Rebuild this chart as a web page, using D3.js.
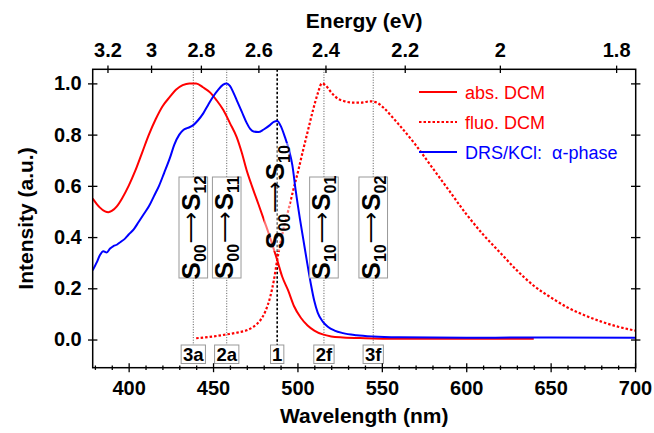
<!DOCTYPE html>
<html><head><meta charset="utf-8">
<script src="https://cdn.jsdelivr.net/npm/d3@7"></script>
<style>
html,body{margin:0;padding:0;background:#fff;}
svg{display:block;font-family:"Liberation Sans",Arial,Helvetica,sans-serif;}
</style></head>
<body>
<svg id="c" width="654" height="433"></svg>
<script>
// ---- data ----
const absWl = [378.7,381,383,386,388,390,393,396,400,404,408,412,416,420,424.5,428,432,436,440,444,448.2,452,456.1,460,464,467,469.9,473,476.8,480,483.7,488,491,494.6,498,502,506,510,515,520,527,540,560,600,640];
const absI  = [0.55,0.53,0.515,0.50,0.497,0.502,0.52,0.55,0.60,0.66,0.73,0.80,0.86,0.91,0.948,0.975,0.993,1.0,1.0,0.985,0.965,0.935,0.896,0.845,0.79,0.73,0.661,0.60,0.53,0.47,0.40,0.31,0.245,0.19,0.13,0.085,0.055,0.035,0.02,0.012,0.008,0.005,0.003,0.003,0.003];

const fluoWl = [440,450,458,465,470,474,478,481,484,486,488,490,491.6,494.6,497.5,500.5,503,506,509,512,514.5,517,520,524,528,533,538,543,547,551,556,560,570,580,590,600,610,620,630,640,650,660,670,680,690,700];
const fluoI  = [0.005,0.012,0.02,0.028,0.036,0.05,0.075,0.11,0.17,0.23,0.31,0.38,0.427,0.505,0.583,0.66,0.73,0.81,0.89,0.96,1.0,0.99,0.965,0.94,0.93,0.925,0.925,0.93,0.925,0.905,0.87,0.84,0.76,0.67,0.58,0.49,0.41,0.34,0.27,0.21,0.165,0.125,0.095,0.07,0.05,0.035];

const drsWl = [378.7,381,383,385,387,389,391,393,395,398,400,403,406,409,412,415,418,421,424.5,427,430,432.4,435,438.3,441,444.2,447,450,453,456,458,460,462,464,467,470,472,474,476.8,480,483.7,486,488,490,492.6,495,497,499,501.5,503.5,505.5,508,510,512,515,518,522,527,535,545,560,600,650,700];
const drsI  = [0.27,0.30,0.33,0.345,0.34,0.355,0.365,0.37,0.38,0.395,0.41,0.43,0.46,0.49,0.52,0.56,0.60,0.65,0.71,0.76,0.80,0.818,0.826,0.837,0.855,0.883,0.915,0.948,0.975,0.995,1.0,0.99,0.965,0.935,0.89,0.845,0.822,0.812,0.81,0.82,0.837,0.85,0.853,0.835,0.79,0.74,0.68,0.58,0.47,0.39,0.31,0.215,0.15,0.105,0.07,0.05,0.035,0.025,0.017,0.012,0.009,0.007,0.008,0.007];

const seriesNames = ["abs. DCM","fluo. DCM","DRS/KCl:  \u03b1-phase"];

const wlTicks = [400,450,500,550,600,650,700];
const wlMinor = [380,390,410,420,430,440,460,470,480,490,510,520,530,540,560,570,580,590,610,620,630,640,660,670,680,690];
const yTicks = [0,0.2,0.4,0.6,0.8,1.0];
const eTicks = [3.2,3,2.8,2.6,2.4,2.2,2,1.8];
const eLabels = ["3.2","3","2.8","2.6","2.4","2.2","2","1.8"];

const transNames = ["3a","2a","1","2f","3f"];
const transWl = [438.3,458.1,488,515.7,544.9];
const transFrom = ["00","00","00","10","10"];
const transTo = ["12","11","10","01","02"];

// ---- scales ----
const svg = d3.select("#c");
const x = d3.scaleLinear().domain([378.7,700.4]).range([92.7,635.7]);
const y = d3.scaleLinear().domain([-0.11,1.055]).range([367.7,69.3]);
const X0 = x.range()[0], X1 = x.range()[1], Y0 = y.range()[0], Y1 = y.range()[1];

// ---- vertical transition lines ----
const boxTop = 177, boxBot = 278, smallTop = 345, smallBot = 363.5;
transWl.forEach((w,i)=>{
  svg.append("line").attr("x1",x(w)).attr("x2",x(w)).attr("y1",Y1).attr("y2",smallTop)
    .attr("stroke", i===2 ? "#000" : "#444")
    .attr("stroke-width", i===2 ? 1.6 : 0.9)
    .attr("stroke-dasharray", i===2 ? "2.5,2" : "1,1.6");
});

// ---- curves ----
const line = d3.line().x(d=>x(d[0])).y(d=>y(d[1])).curve(d3.curveMonotoneX);
const zip = (a,b)=>a.map((v,i)=>[v,b[i]]);
svg.append("path").attr("d",line(zip(fluoWl,fluoI))).attr("fill","none").attr("stroke","#ff0000").attr("stroke-width",2.2).attr("stroke-dasharray","2.5,2");
svg.append("path").attr("d",line(zip(absWl,absI))).attr("fill","none").attr("stroke","#ff0000").attr("stroke-width",2);
svg.append("path").attr("d",line(zip(drsWl,drsI))).attr("fill","none").attr("stroke","#0000ff").attr("stroke-width",2);

// ---- big transition labels ----
function bigLabel(g, i){
  const t = g.append("text").attr("text-anchor","middle").attr("font-weight","bold").attr("fill","#000")
    .attr("font-size",26);
  t.append("tspan").text("S");
  t.append("tspan").attr("font-size",16).attr("dy",6).text(transFrom[i]);
  t.append("tspan").attr("dy",-7.5).attr("font-size",22).attr("font-weight","normal")
    .attr("font-family","DejaVu Sans").attr("dx",1).text("\u27F6");
  t.append("tspan").attr("dy",1.5).attr("dx",1).text("S");
  t.append("tspan").attr("font-size",16).attr("dy",6).text(transTo[i]);
  return t;
}
transWl.forEach((w,i)=>{
  const cx = x(w);
  const cy = i===2 ? 197 : (boxTop+boxBot)/2;
  if(i!==2){
    svg.append("rect").attr("x",cx-14.3).attr("y",boxTop).attr("width",28.6).attr("height",boxBot-boxTop)
      .attr("fill","#fff").attr("stroke","#999").attr("stroke-width",1);
  } else {
    svg.append("rect").attr("x",cx-13).attr("y",cy-54).attr("width",26).attr("height",108)
      .attr("fill","#fff").attr("fill-opacity",0.45);
  }
  const g = svg.append("g").attr("transform",`translate(${cx+6.5},${cy}) rotate(-90)`);
  bigLabel(g,i);
});

// ---- small bottom labels ----
transWl.forEach((w,i)=>{
  const cx = x(w);
  const t = svg.append("text").attr("x",cx).attr("y",smallBot-3).attr("text-anchor","middle")
    .attr("font-size",18.5).attr("font-weight","bold").text(transNames[i]);
  const bb = t.node().getBBox();
  svg.insert("rect", function(){return t.node();})
    .attr("x",cx-bb.width/2-1.5).attr("y",smallTop).attr("width",bb.width+3).attr("height",smallBot-smallTop)
    .attr("fill","#fff").attr("stroke","#999").attr("stroke-width",1);
});

// ---- frame ----
svg.append("rect").attr("x",X0).attr("y",Y1).attr("width",X1-X0).attr("height",Y0-Y1)
  .attr("fill","none").attr("stroke","#000").attr("stroke-width",1.5);

// ---- axes ----
const tickFont = g => g.selectAll("text").attr("font-size",20).attr("font-weight","bold").attr("fill","#000")
  .attr("font-family","Liberation Sans, Arial, sans-serif");
const clean = g => { g.select(".domain").remove(); g.selectAll("line").attr("stroke","#000").attr("stroke-width",1.3); };

// bottom
svg.append("g").attr("transform",`translate(0,${Y0})`)
  .call(d3.axisBottom(x).tickValues(wlTicks).tickSize(4.5).tickPadding(8.5).tickFormat(d3.format("d")))
  .call(clean).call(tickFont).call(g=>g.selectAll("line").attr("y1",-4.5));
svg.append("g").attr("transform",`translate(0,${Y0})`)
  .call(d3.axisBottom(x).tickValues(wlMinor).tickSize(2.2).tickFormat(""))
  .call(clean).call(g=>g.selectAll("line").attr("y1",-2.2));
// top (energy)
svg.append("g").attr("transform",`translate(0,${Y1})`)
  .call(d3.axisTop(x).tickValues(eTicks.map(e=>1239.84/e)).tickSize(3.7).tickPadding(8.6).tickFormat((d,i)=>eLabels[i]))
  .call(clean).call(tickFont).call(g=>g.selectAll("line").attr("y1",3.7));
// left
svg.append("g").attr("transform",`translate(${X0},0)`)
  .call(d3.axisLeft(y).tickValues(yTicks).tickSize(4.7).tickPadding(6.3).tickFormat(d3.format(".1f")))
  .call(clean).call(tickFont).call(g=>g.selectAll("line").attr("x1",4.7));
// right
svg.append("g").attr("transform",`translate(${X1},0)`)
  .call(d3.axisRight(y).tickValues(yTicks).tickSize(4.7).tickFormat(""))
  .call(clean).call(g=>g.selectAll("line").attr("x1",-4.7));

// ---- axis titles ----
svg.append("text").attr("x",(X0+X1)/2).attr("y",423).attr("text-anchor","middle")
  .attr("font-size",21).attr("font-weight","bold").text("Wavelength (nm)");
svg.append("text").attr("x",(X0+X1)/2).attr("y",28).attr("text-anchor","middle")
  .attr("font-size",21).attr("font-weight","bold").text("Energy (eV)");
svg.append("text").attr("transform",`translate(33,${(Y0+Y1)/2}) rotate(-90)`).attr("text-anchor","middle")
  .attr("font-size",21).attr("font-weight","bold").text("Intensity (a.u.)");

// ---- legend ----
const legColors = ["#ff0000","#ff0000","#0000ff"];
const legDash = [null,"2.5,2",null];
seriesNames.forEach((n,i)=>{
  const ly = 92 + i*30;
  svg.append("line").attr("x1",419).attr("x2",457).attr("y1",ly).attr("y2",ly)
    .attr("stroke",legColors[i]).attr("stroke-width",i===1?2.2:2).attr("stroke-dasharray",legDash[i]);
  svg.append("text").attr("x",465).attr("y",ly+6.5).attr("font-size",18).attr("fill",legColors[i])
    .attr("xml:space","preserve").style("white-space","pre").text(n);
});
</script>
</body></html>
